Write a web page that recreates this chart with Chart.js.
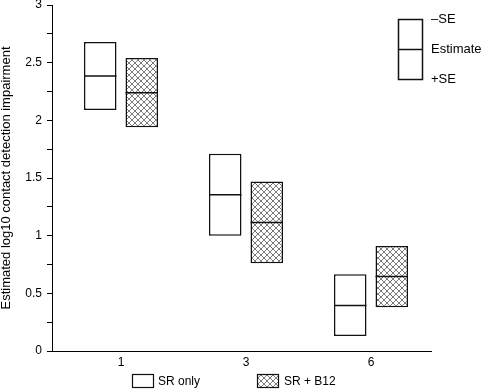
<!DOCTYPE html>
<html>
<head>
<meta charset="utf-8">
<script src="https://cdn.jsdelivr.net/npm/chart.js@4"></script>
<style>
body { margin: 0; background: #fff; }
</style>
</head>
<body>
<canvas id="myChart" width="482" height="391"></canvas>
<script>
var categories = ['1', '3', '6'];
var srOnlyLow = [2.09, 1.00, 0.13];
var srOnlyEstimate = [2.385, 1.355, 0.395];
var srOnlyHigh = [2.68, 1.71, 0.665];
var b12Low = [1.94, 0.76, 0.38];
var b12Estimate = [2.24, 1.115, 0.645];
var b12High = [2.54, 1.47, 0.91];
var yTickLabels = [0, 0.5, 1, 1.5, 2, 2.5, 3];
var seriesNames = ['SR only', 'SR + B12'];

var FONT = '"Liberation Sans", Arial, sans-serif';

window.onload = function () {
    var myCanvas = document.getElementById('myChart');
    var ctx = myCanvas.getContext('2d');

    // crosshatch fill for the B12 boxes
    var tile = document.createElement('canvas');
    tile.width = 6;
    tile.height = 6;
    var t = tile.getContext('2d');
    t.fillStyle = '#fff';
    t.fillRect(0, 0, 6, 6);
    t.strokeStyle = '#7a7a7a';
    t.lineWidth = 1;
    t.beginPath();
    t.moveTo(0, 0); t.lineTo(6, 6);
    t.moveTo(6, 0); t.lineTo(0, 6);
    t.stroke();
    var hatch = ctx.createPattern(tile, 'repeat');

    function toBars(lo, hi) {
        return categories.map(function (c, i) { return { x: i, y: [lo[i], hi[i]] }; });
    }

    // line at the estimate inside every box
    var estimatePlugin = {
        id: 'estimateLines',
        afterDatasetsDraw: function (chart) {
            var c = chart.ctx;
            var yScale = chart.scales.y;
            var ests = [srOnlyEstimate, b12Estimate];
            c.save();
            c.strokeStyle = '#111';
            c.lineWidth = 1.5;
            chart.data.datasets.forEach(function (ds, d) {
                chart.getDatasetMeta(d).data.forEach(function (bar, i) {
                    var p = bar.getProps(['x', 'width']);
                    var y = yScale.getPixelForValue(ests[d][i]);
                    c.beginPath();
                    c.moveTo(p.x - p.width / 2, y);
                    c.lineTo(p.x + p.width / 2, y);
                    c.stroke();
                });
            });
            c.restore();
        }
    };

    // SE key at top right and legend at the bottom
    var keyPlugin = {
        id: 'keys',
        afterDraw: function (chart) {
            var c = chart.ctx;
            c.save();
            c.strokeStyle = '#111';
            c.lineWidth = 1.5;
            c.strokeRect(398.5, 19.5, 24, 60);
            c.beginPath();
            c.moveTo(398.5, 49.5);
            c.lineTo(422.5, 49.5);
            c.stroke();
            c.fillStyle = '#000';
            c.font = '13px ' + FONT;
            c.textBaseline = 'middle';
            c.fillText('\u2013SE', 431, 19);
            c.fillText('Estimate', 431, 49);
            c.fillText('+SE', 431, 79);

            c.lineWidth = 1.2;
            c.fillStyle = '#fff';
            c.fillRect(132.5, 374.5, 21, 13);
            c.strokeRect(132.5, 374.5, 21, 13);
            c.fillStyle = hatch;
            c.fillRect(257.5, 374.5, 21, 13);
            c.strokeRect(257.5, 374.5, 21, 13);
            c.fillStyle = '#000';
            c.font = '12px ' + FONT;
            c.fillText(seriesNames[0], 158, 382);
            c.fillText(seriesNames[1], 284, 382);
            c.restore();
        }
    };

    new Chart(ctx, {
        type: 'bar',
        data: {
            datasets: [{
                label: seriesNames[0],
                data: toBars(srOnlyLow, srOnlyHigh),
                backgroundColor: '#fff',
                borderColor: '#111',
                borderWidth: 1.5,
                borderSkipped: false
            },
            {
                label: seriesNames[1],
                data: toBars(b12Low, b12High),
                backgroundColor: hatch,
                borderColor: '#111',
                borderWidth: 1.5,
                borderSkipped: false
            }]
        },
        options: {
            responsive: false,
            animation: false,
            categoryPercentage: 0.664,
            barPercentage: 0.783,
            layout: { padding: { top: 5, right: 51, bottom: 0, left: 0 } },
            plugins: {
                legend: { display: false },
                tooltip: { enabled: false }
            },
            scales: {
                x: {
                    type: 'linear',
                    min: -0.552,
                    max: 2.48,
                    offset: false,
                    grid: { display: false, drawTicks: false },
                    border: { display: true, color: '#000', width: 1 },
                    afterBuildTicks: function (scale) {
                        scale.ticks = categories.map(function (c, i) { return { value: i }; });
                    },
                    afterFit: function (scale) {
                        scale.height = 40;
                        scale.paddingLeft = 0;
                        scale.paddingRight = 0;
                    },
                    ticks: {
                        color: '#000',
                        font: { family: FONT, size: 12 },
                        padding: 4,
                        maxRotation: 0,
                        callback: function (v) { return categories[v]; }
                    }
                },
                y: {
                    min: 0,
                    max: 3,
                    grid: { drawOnChartArea: false, drawTicks: true, tickLength: 5, color: '#000' },
                    border: { display: true, color: '#000', width: 1 },
                    afterFit: function (scale) {
                        scale.width = 52;
                        scale.paddingTop = 0;
                        scale.paddingBottom = 0;
                    },
                    ticks: {
                        stepSize: 0.25,
                        color: '#000',
                        padding: 5,
                        font: { family: FONT, size: 12 },
                        callback: function (v) {
                            return yTickLabels.indexOf(v) >= 0 ? String(v) : '';
                        }
                    },
                    title: {
                        display: true,
                        text: 'Estimated log10 contact detection impairment',
                        color: '#000',
                        font: { family: FONT, size: 13, lineHeight: 1 },
                        padding: { top: 0, bottom: 0 }
                    }
                }
            }
        },
        plugins: [estimatePlugin, keyPlugin]
    });
};
</script>
</body>
</html>
